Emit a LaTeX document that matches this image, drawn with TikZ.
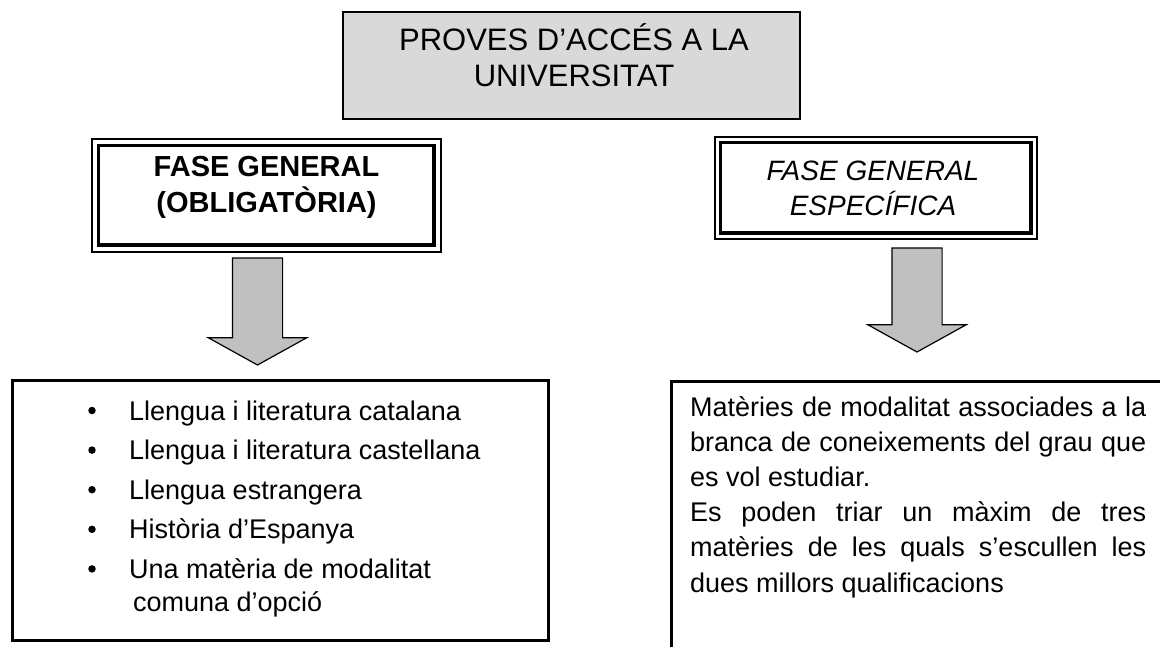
\documentclass[tikz,border=0pt]{standalone}
\usepackage{fontspec}
\setmainfont{Liberation Sans}
\usepackage{tikz}
\usetikzlibrary{shapes.arrows}
\usetikzlibrary{fit}
\definecolor{titlegray}{HTML}{D9D9D9}
\definecolor{arrowgray}{HTML}{C0C0C0}
\tikzset{pau_figure/.style={x=1pt,y=-1pt}}
\tikzset{pau_title/.style={draw, fill=titlegray, line width=1.3pt, inner sep=0pt, outer sep=0pt}}
\tikzset{pau_phase/.style={draw, line width=3.5pt, inner sep=0pt, outer sep=0pt}}
\tikzset{pau_frame/.style={draw, line width=2pt}}
\tikzset{pau_arrow/.style={single arrow, draw, fill=arrowgray, line width=1.2pt, rotate=-90, anchor=tail, inner xsep=0pt, inner ysep=24.5pt, single arrow head extend=24pt, single arrow tip angle=122, outer sep=0pt}}
\tikzset{pau_box/.style={draw, line width=3pt, inner sep=0pt, outer sep=0pt}}
\tikzset{pau_line/.style={anchor=base west, inner sep=0pt, font=\fontsize{27}{31}\selectfont}}
\tikzset{pau_bullet/.style={circle, fill, inner sep=0pt, minimum size=7.5pt}}

\begin{document}
\begin{tikzpicture}[pau_figure]
    \useasboundingbox (0,0) rectangle (1160,646);
    %\draw[help lines, step=50] (0,0) grid (1160,646);

    % title
    \node[pau_title, minimum width=457pt, minimum height=107pt] (pau) at (571.5,65.5) {};
    \node[font=\fontsize{31}{36}\selectfont, align=center] (pautext) at (574,60)
        {\strut PROVES D’ACCÉS A LA\\\strut UNIVERSITAT};

    % the two phases
    \node[pau_phase, minimum width=335.5pt, minimum height=99.5pt] (general) at (266.25,195.25) {};
    \node[pau_frame, fit=(general), inner sep=6.5pt] (generalframe) {};
    \node[font=\fontsize{29}{31.5}\selectfont\bfseries, align=center] (generaltext) at (266.5,188.5)
        {\strut FASE GENERAL\\\strut (OBLIGATÒRIA)};

    \node[pau_phase, minimum width=310.5pt, minimum height=90.5pt] (especifica) at (875.75,187.75) {};
    \node[pau_frame, fit=(especifica), inner sep=5.5pt] (especificaframe) {};
    \node[font=\fontsize{28}{33.5}\selectfont\itshape, align=center] (especificatext) at (873,191.5)
        {\strut FASE GENERAL\\\strut ESPECÍFICA};

    % block arrows
    \node[pau_arrow, minimum height=107pt] (arrowgeneral) at (257.5,258) {};
    \node[pau_arrow, minimum height=104pt] (arrowespecifica) at (917,248) {};

    % contents
    \node[pau_box, minimum width=536pt, minimum height=259.5pt] (llista) at (280,510.25) {};
    \node[pau_box, minimum width=520pt, minimum height=300pt] (materies) at (931,531) {};

    \foreach \i in {1,...,5}
        \node[pau_bullet] (bullet\i) at (92,{410.5+39.6*(\i-1)}) {};
    \node[pau_line] (item1) at (129,420) {Llengua i literatura catalana};
    \node[pau_line] (item2) at (129,459.6) {Llengua i literatura castellana};
    \node[pau_line] (item3) at (129,499.2) {Llengua estrangera};
    \node[pau_line] (item4) at (129,538.8) {Història d’Espanya};
    \node[pau_line] (item5) at (129,578.4) {Una matèria de modalitat};
    \node[pau_line] (item5b) at (133,611) {comuna d’opció};

    \node[pau_line] (text1) at (690,416) {\makebox[456pt][s]{Matèries de modalitat associades a la}};
    \node[pau_line] (text2) at (690,451.2) {\makebox[456pt][s]{branca de coneixements del grau que}};
    \node[pau_line] (text3) at (690,486.4) {es vol estudiar.};
    \node[pau_line] (text4) at (690,521.6) {\makebox[456pt][s]{Es poden triar un màxim de tres}};
    \node[pau_line] (text5) at (690,556.8) {\makebox[456pt][s]{matèries de les quals s’escullen les}};
    \node[pau_line] (text6) at (690,592) {dues millors qualificacions};
\end{tikzpicture}
\end{document}
